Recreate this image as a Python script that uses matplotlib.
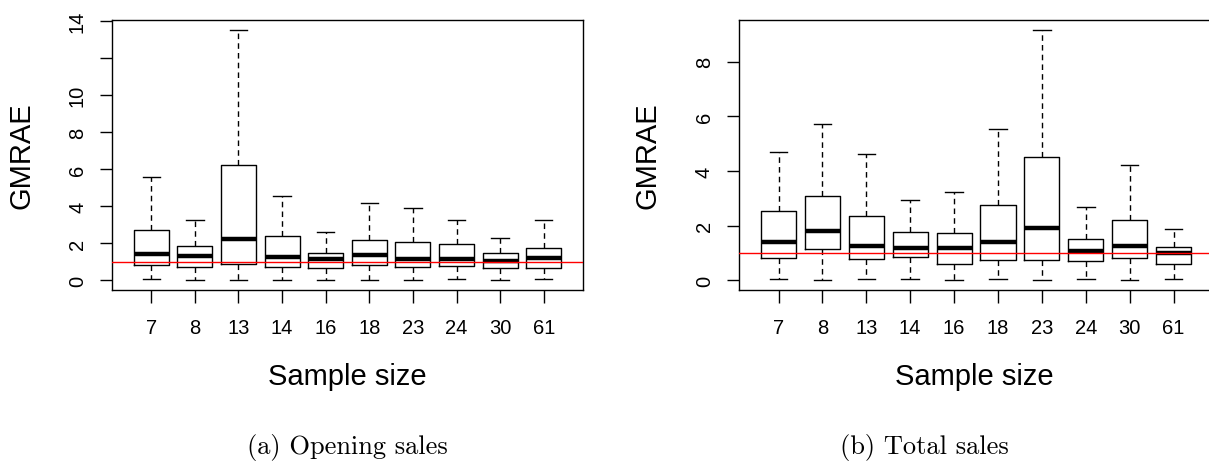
import matplotlib
matplotlib.use('Agg')
import matplotlib.pyplot as plt

plt.rcParams['font.family'] = ['Liberation Sans', 'DejaVu Sans']

# sample sizes (x categories)
sizes = ['7', '8', '13', '14', '16', '18', '23', '24', '30', '61']

# (a) opening sales - GMRAE box stats
open_lo = [0.05, 0.02, 0.02, 0.02, 0.02, 0.02, 0.02, 0.05, 0.02, 0.05]
open_q1 = [0.81, 0.73, 0.90, 0.70, 0.66, 0.84, 0.73, 0.77, 0.68, 0.68]
open_med = [1.40, 1.29, 2.22, 1.25, 1.13, 1.36, 1.13, 1.16, 1.04, 1.22]
open_q3 = [2.74, 1.85, 6.20, 2.38, 1.45, 2.20, 2.06, 1.94, 1.45, 1.76]
open_hi = [5.56, 3.24, 13.53, 4.53, 2.63, 4.18, 3.90, 3.23, 2.29, 3.26]

# (b) total sales - GMRAE box stats
total_lo = [0.04, 0.01, 0.06, 0.04, 0.01, 0.04, 0.01, 0.04, 0.01, 0.06]
total_q1 = [0.80, 1.13, 0.78, 0.85, 0.58, 0.73, 0.74, 0.69, 0.83, 0.61]
total_med = [1.39, 1.80, 1.24, 1.19, 1.17, 1.41, 1.90, 1.06, 1.24, 1.01]
total_q3 = [2.54, 3.08, 2.35, 1.78, 1.74, 2.77, 4.50, 1.52, 2.19, 1.22]
total_hi = [4.71, 5.73, 4.63, 2.93, 3.22, 5.52, 9.18, 2.70, 4.21, 1.86]

open_yticks = [0, 2, 4, 6, 8, 10, 12, 14]
open_ylabels = ['0', '2', '4', '6', '8', '10', '', '14']
total_yticks = [0, 2, 4, 6, 8]
total_ylabels = ['0', '2', '4', '6', '8']

W, H = 1209, 464


def fx(x):
    return x / W


def fy(y):
    return 1 - y / H


def draw_panel(ax, lo, q1, med, q3, hi, yticks, ylabels):
    stats = []
    for i in range(len(sizes)):
        stats.append(dict(whislo=lo[i], q1=q1[i], med=med[i], q3=q3[i],
                          whishi=hi[i], fliers=[]))
    pos = list(range(1, len(sizes) + 1))
    ax.bxp(stats, positions=pos, widths=0.8, capwidths=0.4, showfliers=False,
           boxprops=dict(color='black', lw=1.0),
           medianprops=dict(color='black', lw=3.2, solid_capstyle='butt'),
           whiskerprops=dict(color='black', lw=1.0, linestyle=(0, (4, 3))),
           capprops=dict(color='black', lw=1.0))
    ax.axhline(1, color='red', lw=1.0, zorder=5)

    # R style 4% padding
    ymin, ymax = min(lo), max(hi)
    r = ymax - ymin
    ax.set_ylim(ymin - 0.04 * r, ymax + 0.04 * r)
    ax.set_xlim(0.5 - 0.4, len(sizes) + 0.5 + 0.4)

    ax.set_xticks(pos)
    ax.set_xticklabels(sizes)
    ax.set_yticks(yticks)
    ax.set_yticklabels(ylabels)
    ax.tick_params(axis='both', direction='out', length=9, width=1.0,
                   labelsize=14.5, colors='black')
    ax.tick_params(axis='x', pad=11)
    ax.tick_params(axis='y', pad=9, labelrotation=90)
    for lab in ax.get_yticklabels():
        lab.set_va('center')
    for s in ax.spines.values():
        s.set_linewidth(1.0)
        s.set_color('black')


fig = plt.figure(figsize=(W / 100, H / 100), dpi=100)
ax1 = fig.add_axes([fx(112), fy(291), (583 - 112) / W, (291 - 20.5) / H])
ax2 = fig.add_axes([fx(739), fy(291), (1213 - 739) / W, (291 - 20.5) / H])

draw_panel(ax1, open_lo, open_q1, open_med, open_q3, open_hi, open_yticks, open_ylabels)
draw_panel(ax2, total_lo, total_q1, total_med, total_q3, total_hi, total_yticks, total_ylabels)

fig.text(fx(21.7), fy(156), 'GMRAE', rotation=90, ha='center', va='center', fontsize=21)
fig.text(fx(648), fy(156), 'GMRAE', rotation=90, ha='center', va='center', fontsize=21)
fig.text(fx(347.5), fy(377), 'Sample size', ha='center', va='center', fontsize=21)
fig.text(fx(974.5), fy(377), 'Sample size', ha='center', va='center', fontsize=21)

fig.text(fx(347.5), fy(448), '(a) Opening sales', ha='center', va='center',
         fontsize=19, family='cmr10')
fig.text(fx(924), fy(448), '(b) Total sales', ha='center', va='center',
         fontsize=19, family='cmr10')

fig.savefig('out.png', dpi=100)
